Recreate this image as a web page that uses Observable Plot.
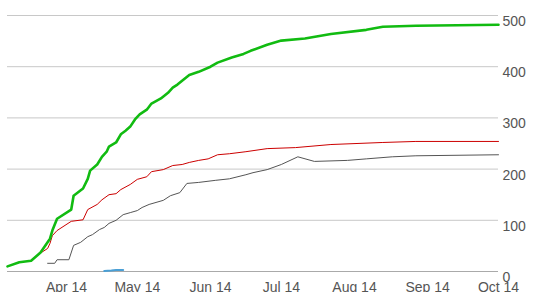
<!DOCTYPE html>
<html><head><meta charset="utf-8">
<script src="https://cdn.jsdelivr.net/npm/d3@7"></script>
<script src="https://cdn.jsdelivr.net/npm/@observablehq/plot@0.6"></script>
<style>html,body{margin:0;padding:0;background:#fff;} svg{display:block}</style>
</head><body><div id="chart"></div>
<script>
const greenSeries = [["2014-03-07",10],["2014-03-12",18],["2014-03-17",21],["2014-03-21",37],["2014-03-25",64],["2014-03-26",80],["2014-03-28",103],["2014-04-03",121],["2014-04-04",148],["2014-04-08",162],["2014-04-10",181],["2014-04-11",197],["2014-04-14",209],["2014-04-16",224],["2014-04-18",234],["2014-04-19",244],["2014-04-22",252],["2014-04-24",268],["2014-04-26",275],["2014-04-28",283],["2014-04-30",297],["2014-05-02",307],["2014-05-05",316],["2014-05-07",328],["2014-05-11",338],["2014-05-14",349],["2014-05-16",359],["2014-05-18",365],["2014-05-23",384],["2014-05-27",390],["2014-06-01",400],["2014-06-04",408],["2014-06-10",418],["2014-06-15",425],["2014-06-18",431],["2014-06-25",443],["2014-07-01",451],["2014-07-11",455],["2014-07-22",464],["2014-08-06",472],["2014-08-13",478],["2014-08-27",480],["2014-10-01",482]];
const redSeries = [["2014-03-20",33],["2014-03-24",45],["2014-03-25",55],["2014-03-26",70],["2014-03-28",80],["2014-04-03",98],["2014-04-08",101],["2014-04-10",121],["2014-04-14",131],["2014-04-16",140],["2014-04-19",150],["2014-04-22",152],["2014-04-24",160],["2014-04-28",170],["2014-05-01",180],["2014-05-05",185],["2014-05-07",195],["2014-05-12",199],["2014-05-16",207],["2014-05-20",209],["2014-05-23",213],["2014-05-27",217],["2014-05-31",220],["2014-06-04",228],["2014-06-09",230],["2014-06-16",234],["2014-06-25",240],["2014-07-07",242],["2014-07-22",248],["2014-08-13",252],["2014-08-27",254],["2014-10-01",254]];
const graySeries = [["2014-03-24",16],["2014-03-27",16],["2014-03-28",23],["2014-04-02",23],["2014-04-04",51],["2014-04-07",57],["2014-04-10",68],["2014-04-12",72],["2014-04-15",82],["2014-04-17",86],["2014-04-19",94],["2014-04-22",100],["2014-04-25",111],["2014-04-28",115],["2014-05-01",119],["2014-05-03",125],["2014-05-06",131],["2014-05-12",139],["2014-05-15",148],["2014-05-19",154],["2014-05-22",172],["2014-05-27",174],["2014-06-03",178],["2014-06-09",181],["2014-06-16",189],["2014-06-19",193],["2014-06-25",199],["2014-07-01",209],["2014-07-08",224],["2014-07-15",215],["2014-07-29",217],["2014-08-06",220],["2014-08-17",224],["2014-08-27",226],["2014-10-01",228]];
const blueSeries = [["2014-04-17",1],["2014-04-20",2],["2014-04-22",3],["2014-04-25",3]];
const yTicks = [0,100,200,300,400,500];
const xTicks = ["2014-04-01","2014-05-01","2014-06-01","2014-07-01","2014-08-01","2014-09-01","2014-10-01"];
const xDomain = ["2014-03-07","2014-10-01"];

const rows = arr => arr.map(([d,v]) => ({date: new Date(d), value: v}));

const chart = Plot.plot({
  width: 560, height: 292,
  marginLeft: 7, marginRight: 62, marginTop: 15, marginBottom: 21,
  x: {type: "utc", domain: xDomain.map(d => new Date(d))},
  y: {domain: [0, 500]},
  style: {fontFamily: "'Liberation Sans', Arial, sans-serif", fontSize: "14px", color: "#555", background: "#fff", overflow: "visible"},
  marks: [
    Plot.gridY(yTicks.filter(t => t > 0), {stroke: "#c8c8c8", strokeOpacity: 1}),
    Plot.ruleY([0], {stroke: "#aaa"}),
    Plot.axisY(yTicks, {anchor: "right", tickSize: 0, tickPadding: 4, textAnchor: "start", dy: 6, fontSize: 14, fill: "#555", label: null}),
    Plot.axisX(xTicks.map(d => new Date(d)), {anchor: "bottom", tickSize: 0, tickPadding: 11, tickFormat: d3.utcFormat("%b %y"), fontSize: 14, fill: "#555", label: null}),
    Plot.line(rows(blueSeries), {x: "date", y: "value", stroke: "#4a9fd5", strokeWidth: 2}),
    Plot.line(rows(graySeries), {x: "date", y: "value", stroke: "#555", strokeWidth: 1}),
    Plot.line(rows(redSeries), {x: "date", y: "value", stroke: "#cc0000", strokeWidth: 1}),
    Plot.line(rows(greenSeries), {x: "date", y: "value", stroke: "#11bb11", strokeWidth: 2.6})
  ]
});
document.getElementById("chart").appendChild(chart);
</script>
</body></html>
